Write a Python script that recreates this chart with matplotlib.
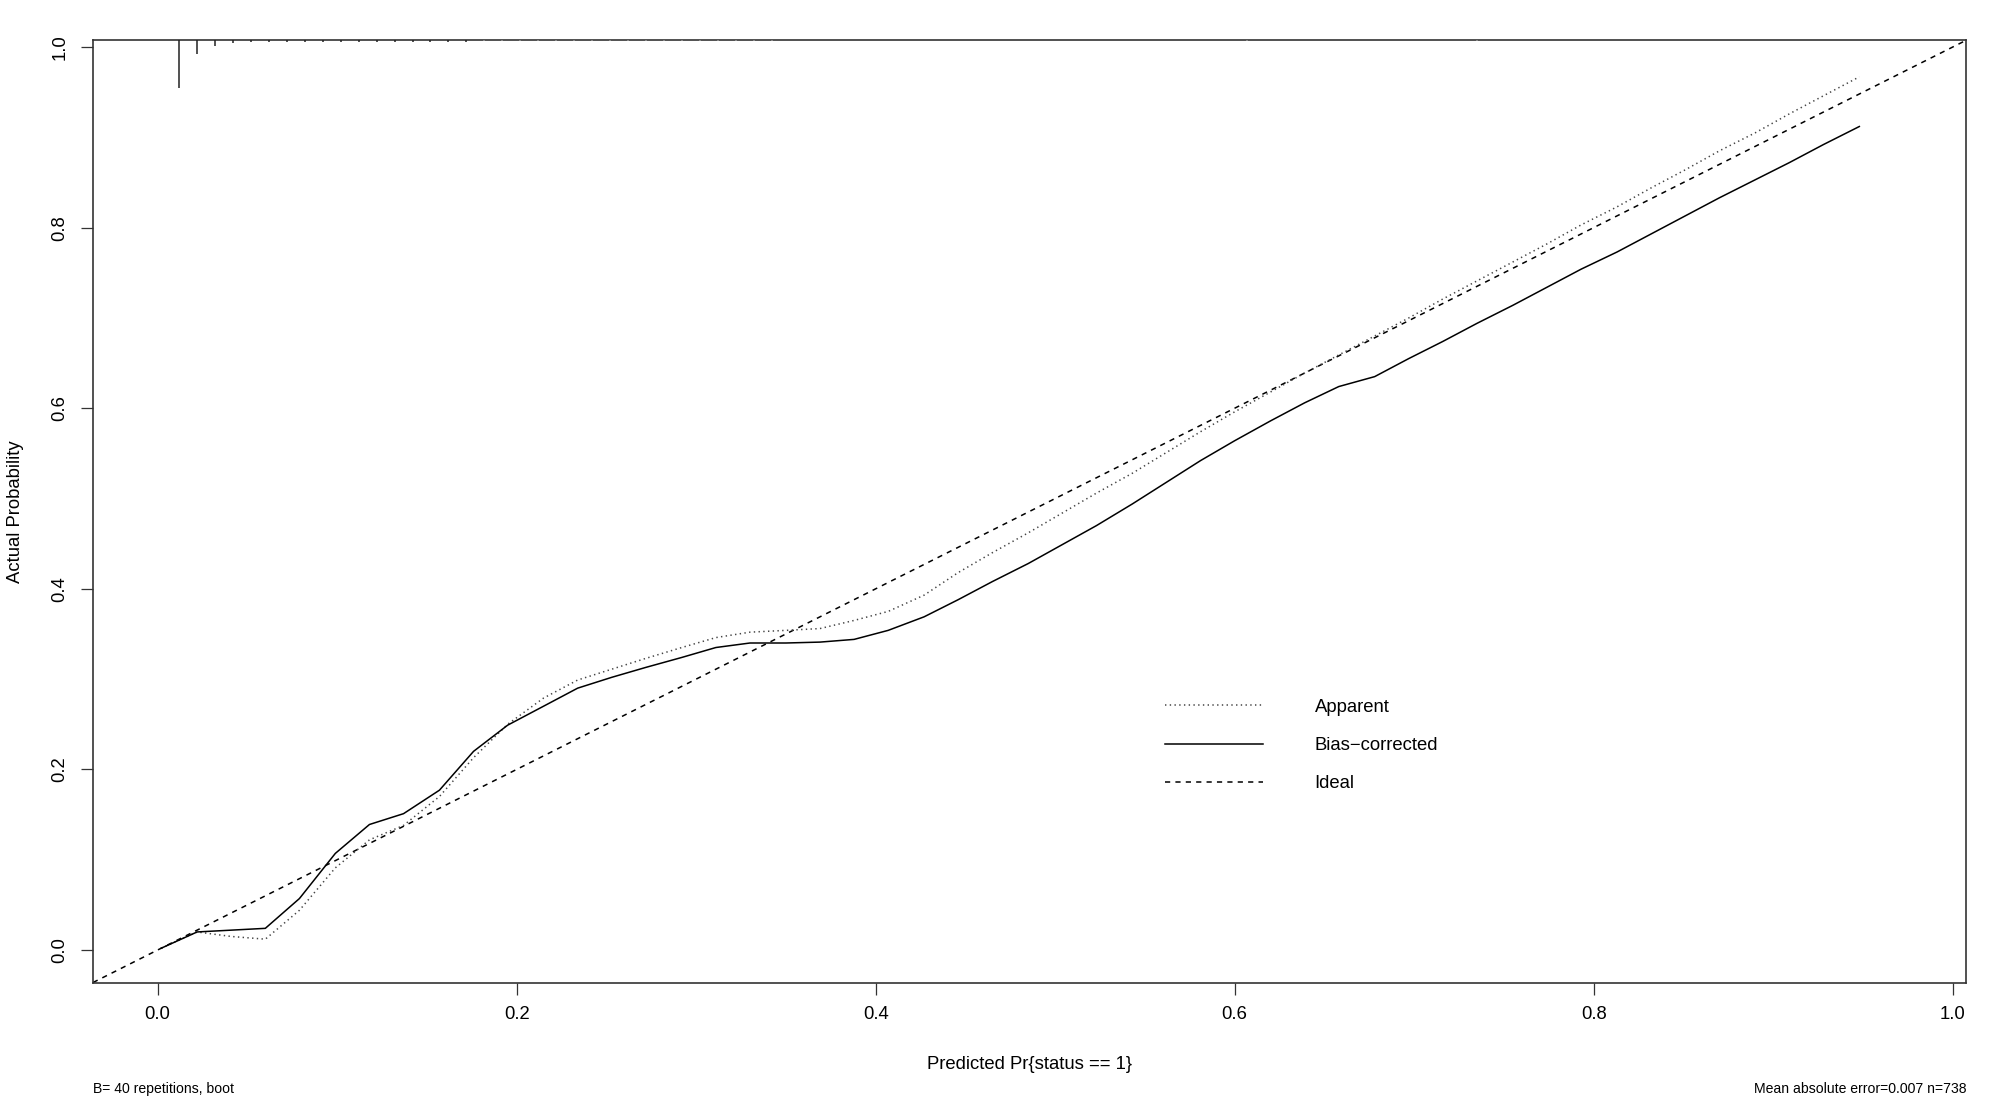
import matplotlib
matplotlib.use("Agg")
import matplotlib.pyplot as plt

plt.rcParams['font.family'] = ['Liberation Sans', 'DejaVu Sans']

# predicted probability grid (50 points)
pred = [0.002, 0.022, 0.041, 0.060, 0.079, 0.099, 0.118, 0.137, 0.157, 0.176,
        0.195, 0.215, 0.234, 0.253, 0.272, 0.292, 0.311, 0.330, 0.350, 0.369,
        0.388, 0.407, 0.427, 0.446, 0.465, 0.485, 0.504, 0.523, 0.543, 0.562,
        0.581, 0.600, 0.620, 0.639, 0.658, 0.678, 0.697, 0.716, 0.735, 0.755,
        0.774, 0.793, 0.813, 0.832, 0.851, 0.870, 0.890, 0.909, 0.928, 0.948]

apparent = [0.002, 0.020, 0.015, 0.012, 0.044, 0.091, 0.122, 0.138, 0.170, 0.213,
            0.250, 0.279, 0.299, 0.311, 0.323, 0.335, 0.346, 0.352, 0.354, 0.356,
            0.365, 0.375, 0.393, 0.418, 0.440, 0.462, 0.484, 0.506, 0.528, 0.551,
            0.574, 0.596, 0.618, 0.639, 0.659, 0.680, 0.700, 0.721, 0.741, 0.762,
            0.782, 0.803, 0.823, 0.844, 0.864, 0.885, 0.905, 0.926, 0.946, 0.967]

bias_corrected = [0.002, 0.020, 0.022, 0.024, 0.057, 0.107, 0.139, 0.151, 0.177, 0.220,
                  0.249, 0.270, 0.290, 0.302, 0.313, 0.324, 0.335, 0.340, 0.340, 0.341,
                  0.344, 0.354, 0.369, 0.388, 0.408, 0.428, 0.449, 0.470, 0.494, 0.518,
                  0.542, 0.564, 0.586, 0.606, 0.624, 0.635, 0.655, 0.674, 0.694, 0.714,
                  0.734, 0.754, 0.773, 0.793, 0.813, 0.833, 0.853, 0.872, 0.892, 0.912]

# rug (distribution of predicted values) at top
rug_x = [0.012, 0.022, 0.032, 0.042, 0.052, 0.062, 0.072, 0.082, 0.092, 0.102,
         0.112, 0.122, 0.132, 0.142, 0.152, 0.162, 0.172, 0.182, 0.192, 0.202,
         0.212, 0.222, 0.232, 0.242, 0.252, 0.262, 0.272, 0.282, 0.292, 0.302,
         0.312, 0.322, 0.332, 0.342, 0.607, 0.735]
rug_len = [0.053, 0.0155, 0.0066, 0.0035, 0.0025, 0.0025, 0.0025, 0.0025, 0.0025, 0.0025,
           0.0025, 0.0025, 0.0025, 0.0025, 0.0025, 0.0025, 0.0025, 0.0013, 0.0013, 0.0013,
           0.0013, 0.0013, 0.0013, 0.0013, 0.0013, 0.0013, 0.0013, 0.0013, 0.0013, 0.0013,
           0.0013, 0.0013, 0.0013, 0.0013, 0.0013, 0.0013]

ticks = [0.0, 0.2, 0.4, 0.6, 0.8, 1.0]
tick_labels = ["0.0", "0.2", "0.4", "0.6", "0.8", "1.0"]

W, H = 2000, 1099
fig = plt.figure(figsize=(W / 100, H / 100), dpi=100)
L, R, T, B = 93, 1965.6, 40, 982.7
ax = fig.add_axes([L / W, 1 - B / H, (R - L) / W, (B - T) / H])

xlim = (-0.036, 1.0072)
ylim = (-0.0362, 1.0078)
ax.set_xlim(*xlim)
ax.set_ylim(*ylim)

FS = 13.3
lw = 1.1
ax.axline((0, 0), slope=1, color='black', lw=lw, linestyle=(0, (3.4, 3.4)), label='Ideal', zorder=2)
ax.plot(pred, apparent, color='#444444', lw=lw, linestyle=(0, (0.9, 2.2)), label='Apparent', zorder=3)
ax.plot(pred, bias_corrected, color='black', lw=lw, label='Bias\u2212corrected', zorder=3)

ytop = ylim[1]
rug_col = ['#222222' if l > 0.002 else '#9a9a9a' for l in rug_len]
ax.vlines(rug_x, [ytop - l for l in rug_len], ytop, colors=rug_col, lw=1.1, zorder=4)

ax.set_xticks(ticks)
ax.set_xticklabels(tick_labels)
ax.set_yticks(ticks)
ax.set_yticklabels(tick_labels)
ax.tick_params(axis='both', direction='out', length=8.6, width=0.9, labelsize=FS, color='#333333')
ax.tick_params(axis='x', pad=8)
ax.tick_params(axis='y', pad=9, labelrotation=90)
for lab in ax.get_yticklabels():
    lab.set_va('center')

for s in ax.spines.values():
    s.set_linewidth(1.2)
    s.set_color('#333333')

ax.set_xlabel('Predicted Pr{status == 1}', fontsize=FS)
ax.xaxis.set_label_coords(0.5, (H - 1064.5 - (H - B)) / (B - T))
ax.xaxis.label.set_va('center')
ax.set_ylabel('Actual Probability', fontsize=FS)
ax.yaxis.set_label_coords((15 - L) / (R - L), 0.5)
ax.yaxis.label.set_va('center')

handles, labels = ax.get_legend_handles_labels()
order = [labels.index('Apparent'), labels.index('Bias\u2212corrected'), labels.index('Ideal')]
leg = ax.legend([handles[i] for i in order], [labels[i] for i in order],
                loc='center left', bbox_to_anchor=((1165 - L) / (R - L), (B - 745.5) / (B - T)),
                frameon=False, fontsize=FS, handlelength=5.3, handletextpad=2.8,
                labelspacing=1.15, borderpad=0, borderaxespad=0)

fig.text(L / W, 1 - 1089 / H, 'B= 40 repetitions, boot', fontsize=10.1, ha='left', va='center')
fig.text(1966.5 / W, 1 - 1089 / H, 'Mean absolute error=0.007 n=738', fontsize=10.1, ha='right', va='center')

fig.savefig('out.png', dpi=100, facecolor='white')
